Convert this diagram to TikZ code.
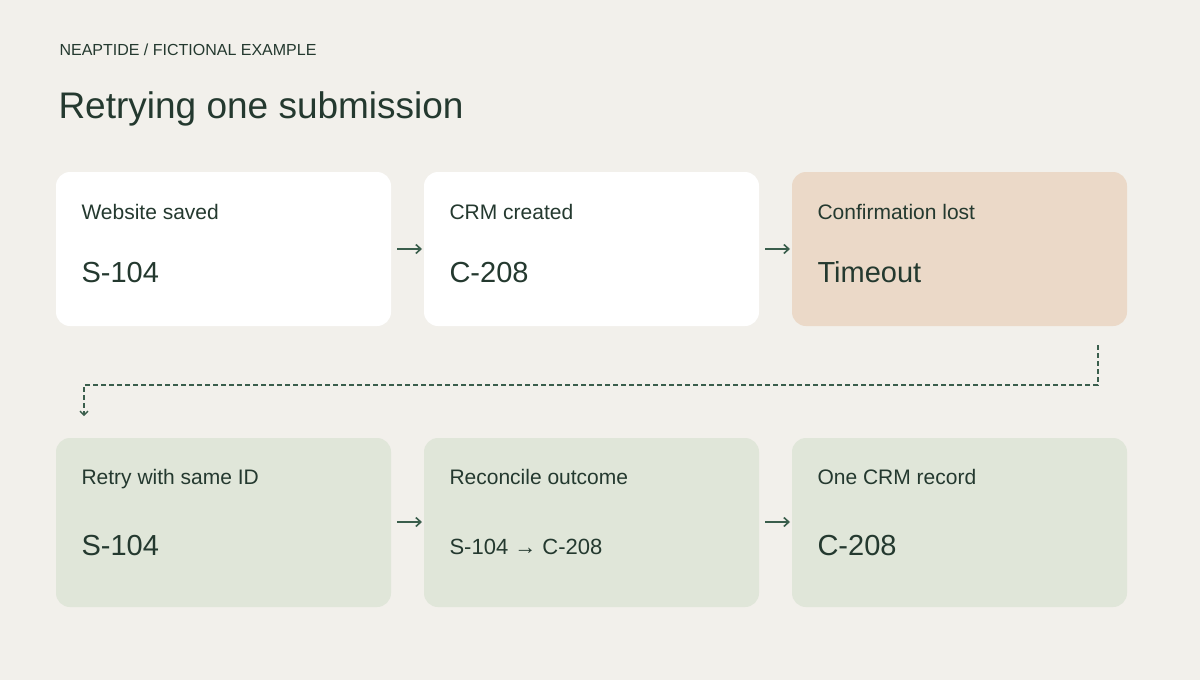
\documentclass[tikz,border=0pt]{standalone}
\usepackage{fontspec}
\setmainfont{Liberation Sans}
\usetikzlibrary{arrows.meta}
\definecolor{bg}{HTML}{F2F0EB}
\definecolor{ink}{HTML}{24392F}
\definecolor{peach}{HTML}{EBD9C8}
\definecolor{sage}{HTML}{E0E6D9}
\definecolor{arr}{HTML}{3A5E4C}
\begin{document}
\begin{tikzpicture}[x=1pt,y=-1pt,
  box/.style={rounded corners=14pt,draw=none},
  lab/.style={anchor=base west,text=ink,font=\fontsize{21}{24}\selectfont},
  val/.style={anchor=base west,text=ink,font=\fontsize{29}{32}\selectfont},
  conn/.style={draw=arr,line width=1.6pt,-{Straight Barb[length=5pt,width=9pt]}}]
\useasboundingbox[fill=bg] (0,0) rectangle (1200,680);
\node[anchor=base west,text=ink,font=\fontsize{16}{18}\selectfont] (hdr) at (56,55) {NEAPTIDE / FICTIONAL EXAMPLE};
\node[anchor=base west,text=ink,font=\fontsize{37}{40}\selectfont] (ttl) at (55,118) {Retrying one submission};
% row 1
\fill[white,box] (56,172) rectangle (391,326);
\fill[white,box] (424,172) rectangle (759,326);
\fill[peach,box] (792,172) rectangle (1127,326);
\node[lab] (l1) at (78,219) {Website saved};
\node[val] (v1) at (78,282) {S-104};
\node[lab] (l2) at (446,219) {CRM created};
\node[val] (v2) at (446,282) {C-208};
\node[lab] (l3) at (814,219) {Confirmation lost};
\node[val] (v3) at (814,282) {Timeout};
% row 2
\fill[sage,box] (56,438) rectangle (391,607);
\fill[sage,box] (424,438) rectangle (759,607);
\fill[sage,box] (792,438) rectangle (1127,607);
\node[lab] (l4) at (78,484) {Retry with same ID};
\node[val] (v4) at (78,555) {S-104};
\node[lab] (l5) at (446,484) {Reconcile outcome};
\node[anchor=base west,text=ink,font=\fontsize{22}{24}\selectfont] (v5) at (446,554) {S-104 → C-208};
\node[lab] (l6) at (814,484) {One CRM record};
\node[val] (v6) at (814,555) {C-208};
% arrows
\coordinate (a1s) at (397,249); \coordinate (a1e) at (422,249);
\coordinate (a2s) at (765,249); \coordinate (a2e) at (790,249);
\coordinate (a3s) at (397,522); \coordinate (a3e) at (422,522);
\coordinate (a4s) at (765,522); \coordinate (a4e) at (790,522);
\draw[conn] (a1s) -- (a1e);
\draw[conn] (a2s) -- (a2e);
\draw[conn] (a3s) -- (a3e);
\draw[conn] (a4s) -- (a4e);
\coordinate (ds) at (1098,345); \coordinate (de) at (84,416);
\draw[draw=arr,line width=1.4pt,dash pattern=on 5pt off 3pt,-{Straight Barb[length=4pt,width=8pt]}]
  (ds) -- (1098,385) -- (84,385) -- (de);
\end{tikzpicture}
\end{document}
